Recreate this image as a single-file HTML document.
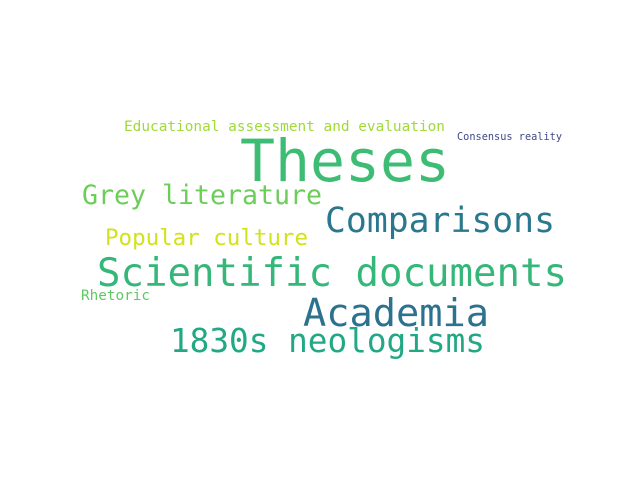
<!DOCTYPE html>
<html><head><meta charset="utf-8"><style>
html,body{margin:0;padding:0;background:#fff;}
svg text{font-family:"DejaVu Sans Mono","Liberation Mono",monospace;}
</style></head>
<body>
<svg width="640" height="480" xmlns="http://www.w3.org/2000/svg">
<rect width="640" height="480" fill="#fff"/>
<g id="words"></g>
</svg>
<script>
const words=["Educational assessment and evaluation","Consensus reality","Theses","Grey literature","Comparisons","Popular culture","Scientific documents","Rhetoric","Academia","1830s neologisms"];
const sizes=[14.4,10.3,58,26.6,34.7,22.5,39,14.3,38.6,32.7];
const colors=["#a0da39","#3e4a89","#3dbc74","#6ccd5a","#2a788e","#d2e21b","#35b779","#5ec962","#2c728e","#22a884"];
const xs=[124,457,240,82,325,105,97,81,303,170];
const widths=[321,105,210,240,230,203,470,69,186,315];
const ys=[131,140,181,204,232,245,286,300,326,352];
const g=document.getElementById('words');
words.forEach((w,i)=>{
 const t=document.createElementNS('http://www.w3.org/2000/svg','text');
 
 
 t.setAttribute('x',xs[i]);t.setAttribute('y',ys[i]);
 t.setAttribute('font-size',sizes[i]);t.setAttribute('fill',colors[i]);
 t.setAttribute('textLength',widths[i]);t.setAttribute('lengthAdjust','spacingAndGlyphs');
 t.textContent=w;g.appendChild(t);
});
</script>
</body></html>
